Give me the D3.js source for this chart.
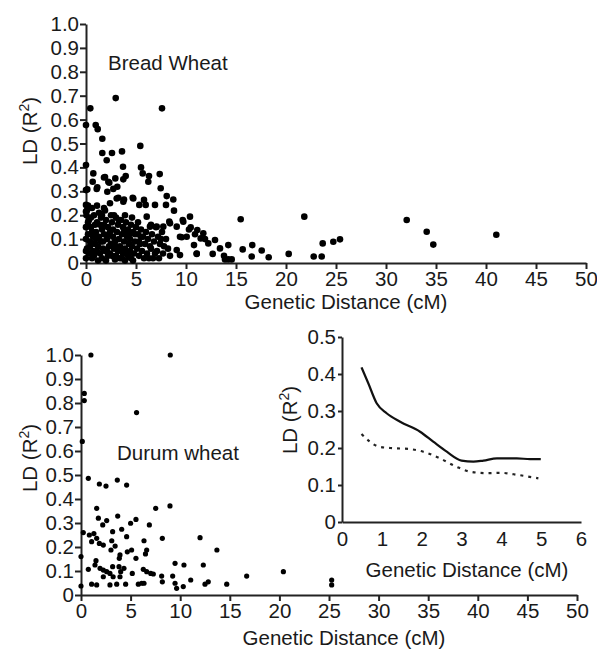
<!DOCTYPE html>
<head>
  <meta charset="utf-8">
  <style>
  body { margin: 0; background: #fff; }
  svg text { font-family: "Liberation Sans", Arial, sans-serif; fill: #1a1a1a; }
  .axis path, .axis line { stroke: #222; stroke-width: 2px; }
  .axis text { font-size: 20.5px; }
  .title { font-size: 20.5px; }
  .dots circle { fill: #000; }
  </style>
  <script src="https://cdn.jsdelivr.net/npm/d3@7"></script>
</head>

<body>
  <svg width="597" height="653"></svg>

  <script>

  // Bread wheat LD (R^2) vs genetic distance (cM)
  var breadWheat = [
    [2.97,0.69],[0.43,0.647],[7.6,0.647],[0.0,0.577],[0.97,0.577],[1.17,0.56],[1.63,0.52],
    [1.63,0.46],[2.6,0.46],[3.6,0.467],[2.07,0.43],[5.43,0.49],[0.0,0.41],[0.73,0.375],
    [3.7,0.403],[5.5,0.40],[1.8,0.358],[2.93,0.354],[3.97,0.364],[6.3,0.364],[7.37,0.372],
    [0.13,0.308],[0.67,0.34],[1.13,0.317],[2.33,0.336],[2.13,0.298],[3.13,0.319],
    [3.23,0.273],[3.8,0.266],[4.67,0.273],[5.67,0.375],[6.23,0.34],[5.33,0.243],[5.8,0.264],
    [5.97,0.243],[6.07,0.194],[7.47,0.313],[6.9,0.243],[8.07,0.28],[8.73,0.266],[8.0,0.243],
    [8.8,0.219],[8.33,0.173],[9.67,0.18],[10.4,0.194],[10.47,0.149],[11.13,0.138],[11.73,0.124],
    [9.07,0.152],[9.57,0.108],[10.07,0.11],[10.8,0.075],[11.47,0.103],[12.23,0.082],[12.9,0.096],
    [11.07,0.038],[12.67,0.038],[13.4,0.061],[14.23,0.075],[13.8,0.03],[14.23,0.015],[14.57,0.015],
    [13.9,0.015],[15.47,0.183],[15.67,0.057],[16.63,0.075],[16.57,0.027],[17.57,0.052],[18.27,0.024],
    [20.27,0.038],[21.83,0.194],[22.77,0.027],[23.57,0.027],[23.67,0.082],[24.73,0.089],[25.4,0.099],
    [32.07,0.18],[34.07,0.131],[34.73,0.077],[41.03,0.118],
    [0.0,0.305],[1.07,0.31],[1.9,0.36],[2.23,0.34],[2.73,0.31],[3.73,0.35],[3.07,0.27],
    [3.73,0.256],[4.73,0.27],[8.4,0.166],[7.07,0.152],[7.73,0.152],[6.4,0.152],[9.73,0.173],
    [9.4,0.11],[9.07,0.054],[9.4,0.033],[11.07,0.04],[10.3,0.14],[10.9,0.12],[11.9,0.1],
    [0.0,0.243],[0.0,0.215],[0.2,0.24],[0.6,0.23],[1.1,0.24],[1.8,0.23],[2.4,0.25],[0.05,0.2],
    [0.0,0.15],[0.0,0.1],[0.0,0.05],[0.0,0.02],
    [0.1,0.22],[0.3,0.18],[0.5,0.15],[0.2,0.12],[0.4,0.09],[0.1,0.06],[0.3,0.04],[0.6,0.02],
    [0.8,0.2],[0.9,0.16],[1.0,0.13],[0.7,0.11],[0.9,0.08],[1.1,0.05],[0.8,0.03],[1.2,0.01],
    [1.3,0.21],[1.5,0.19],[1.4,0.16],[1.6,0.14],[1.3,0.11],[1.5,0.09],[1.7,0.06],[1.4,0.04],
    [1.6,0.02],[1.9,0.22],[2.0,0.18],[2.2,0.15],[1.8,0.12],[2.1,0.1],[2.3,0.07],[1.9,0.05],
    [2.2,0.03],[2.0,0.01],[2.5,0.2],[2.6,0.17],[2.4,0.13],[2.7,0.11],[2.5,0.08],[2.8,0.06],
    [2.6,0.03],[2.9,0.015],[3.0,0.19],[3.2,0.16],[3.1,0.13],[3.3,0.1],[3.0,0.07],[3.2,0.05],
    [3.4,0.02],[3.5,0.18],[3.7,0.15],[3.6,0.12],[3.8,0.09],[3.5,0.06],[3.7,0.04],[3.9,0.01],
    [4.0,0.17],[4.2,0.14],[4.1,0.11],[4.3,0.08],[4.0,0.05],[4.2,0.03],[4.5,0.16],[4.7,0.13],
    [4.4,0.1],[4.6,0.07],[4.8,0.04],[4.5,0.02],[5.0,0.15],[5.2,0.12],[4.9,0.09],[5.1,0.06],
    [5.3,0.03],[5.5,0.14],[5.7,0.11],[5.4,0.08],[5.6,0.05],[5.8,0.02],[6.0,0.13],[6.2,0.1],
    [6.4,0.07],[6.1,0.04],[6.3,0.02],[6.6,0.12],[6.8,0.09],[6.5,0.06],[6.9,0.04],[7.0,0.15],
    [7.2,0.11],[7.4,0.08],[7.1,0.05],[7.3,0.02],[7.6,0.13],[7.8,0.07],[7.7,0.04],[8.0,0.1],
    [8.2,0.06],[8.4,0.03],
    [0.2,0.17],[0.6,0.13],[0.4,0.07],[0.7,0.05],[1.0,0.1],[1.2,0.07],[1.1,0.17],[1.8,0.16],
    [1.7,0.09],[2.3,0.12],[2.1,0.05],[2.7,0.14],[2.9,0.09],[2.4,0.04],[3.3,0.18],[3.4,0.07],
    [3.0,0.03],[3.8,0.13],[3.9,0.06],[3.6,0.02],[4.3,0.12],[4.4,0.05],[4.9,0.12],[4.7,0.01],
    [5.3,0.09],[5.9,0.08],[6.7,0.02],[5.5,0.11],[0.5,0.19],[1.6,0.2],[2.8,0.2],[3.9,0.2],
    [4.6,0.19],[5.2,0.17],[6.5,0.16],[7.5,0.1]
  ];

  // Durum wheat LD (R^2) vs genetic distance (cM)
  var durumWheat = [
    [1.0,1.0],[9.0,1.0],[0.33,0.84],[0.33,0.81],[5.6,0.76],[0.13,0.64],
    [0.74,0.486],[1.85,0.4625],[2.52,0.454],[3.66,0.479],[4.6,0.458],[1.58,0.361],[1.75,0.32],
    [2.59,0.31],[2.19,0.292],[3.7,0.329],[3.19,0.264],[4.1,0.274],[5.0,0.299],[5.54,0.315],
    [6.89,0.292],[7.53,0.361],[8.97,0.371],[8.2,0.236],[12.0,0.239],[13.7,0.1875],
    [0.23,0.26],[0.84,0.25],[1.3,0.256],[1.58,0.236],[1.07,0.222],[1.85,0.215],[2.25,0.208],
    [3.1,0.226],[3.44,0.204],[3.02,0.1875],[4.6,0.243],[4.67,0.18],[5.1,0.1875],[6.35,0.226],
    [6.62,0.1875],[6.5,0.171],[5.54,0.153],[3.93,0.167],[3.86,0.153],[0.0,0.16],
    [0.74,0.107],[1.51,0.143],[1.41,0.125],[1.92,0.111],[2.25,0.104],[2.59,0.097],[2.92,0.09],
    [2.25,0.076],[3.24,0.076],[3.19,0.118],[3.83,0.118],[4.0,0.097],[4.33,0.111],[3.93,0.076],
    [5.17,0.09],[6.28,0.107],[6.62,0.097],[7.03,0.09],[7.29,0.0875],[8.13,0.079],[8.2,0.055],
    [9.24,0.079],[9.48,0.049],[9.64,0.028],[9.48,0.132],[10.38,0.125],[11.06,0.0625],[10.31,0.035],
    [12.33,0.125],[12.5,0.045],[12.83,0.055],[14.69,0.045],[16.7,0.079],[20.4,0.097],
    [0.0,0.0375],[1.07,0.045],[1.58,0.042],[2.92,0.042],[3.6,0.045],[4.5,0.045],[5.78,0.045],
    [6.12,0.049],[6.35,0.049],[25.27,0.0625],[25.27,0.042]
  ];

  // inset: average LD decay curves (bread solid, durum dotted)
  var breadCurve = [
    [0.49,0.418],[0.66,0.375],[0.87,0.321],[1.12,0.294],[1.46,0.271],[1.96,0.244],[2.29,0.217],
    [2.63,0.19],[3.0,0.166],[3.3,0.163],[3.55,0.166],[3.89,0.172],[4.39,0.172],[4.72,0.17],[4.99,0.17]
  ];
  var durumCurve = [
    [0.49,0.238],[0.70,0.217],[0.91,0.204],[1.21,0.2],[1.71,0.197],[2.04,0.19],[2.46,0.172],
    [2.88,0.149],[3.22,0.136],[3.64,0.132],[3.97,0.133],[4.43,0.127],[4.93,0.118]
  ];

  var ldTicks = [0, 0.1, 0.2, 0.3, 0.4, 0.5, 0.6, 0.7, 0.8, 0.9, 1.0];
  var distTicks = [0, 5, 10, 15, 20, 25, 30, 35, 40, 45, 50];
  var insetLdTicks = [0, 0.1, 0.2, 0.3, 0.4, 0.5];
  var insetDistTicks = [0, 1, 2, 3, 4, 5, 6];

  var svg = d3.select("svg");

  var fmt = function(d) { return d === 0 ? "0" : d3.format(".1f")(d); };

  function ldLabel(x, y) {
    var t = svg.append("text")
      .attr("class", "title")
      .attr("transform", "translate(" + x + "," + y + ") rotate(-90)")
      .attr("text-anchor", "middle");
    t.append("tspan").text("LD (R");
    t.append("tspan").attr("dy", -8).style("font-size", "14px").text("2");
    t.append("tspan").attr("dy", 8).text(")");
  }

  function scatter(data, x, y, r) {
    var g = svg.append("g");
    g.append("g")
      .attr("class", "axis")
      .attr("transform", "translate(0," + y.range()[0] + ")")
      .call(d3.axisBottom(x).tickValues(distTicks).tickSize(6).tickPadding(2).tickSizeOuter(0));
    g.append("g")
      .attr("class", "axis")
      .attr("transform", "translate(" + x.range()[0] + ",0)")
      .call(d3.axisLeft(y).tickValues(ldTicks).tickFormat(fmt).tickSize(6).tickPadding(1).tickSizeOuter(0));
    g.selectAll(".axis .domain").attr("fill", "none");
    g.append("g")
      .attr("class", "dots")
      .selectAll("circle")
      .data(data)
      .enter().append("circle")
      .attr("cx", function(d) { return x(d[0]); })
      .attr("cy", function(d) { return y(d[1]); })
      .attr("r", r);
  }

  // top: bread wheat
  var x1 = d3.scaleLinear().domain([0, 50]).range([86, 586]);
  var y1 = d3.scaleLinear().domain([0, 1]).range([263, 24]);
  scatter(breadWheat, x1, y1, 3.3);
  svg.append("text").attr("class", "title").attr("x", 108).attr("y", 70).text("Bread Wheat");
  ldLabel(37, 131);
  svg.append("text").attr("class", "title").attr("x", 346).attr("y", 309)
    .attr("text-anchor", "middle").text("Genetic Distance (cM)");

  // bottom: durum wheat
  var x2 = d3.scaleLinear().domain([0, 50]).range([81, 577]);
  var y2 = d3.scaleLinear().domain([0, 1]).range([595, 355]);
  scatter(durumWheat, x2, y2, 2.6);
  svg.append("text").attr("class", "title").attr("x", 117).attr("y", 460).text("Durum wheat");
  ldLabel(37, 458);
  svg.append("text").attr("class", "title").attr("x", 344).attr("y", 645)
    .attr("text-anchor", "middle").text("Genetic Distance (cM)");

  // inset
  var x3 = d3.scaleLinear().domain([0, 6]).range([342, 581]);
  var y3 = d3.scaleLinear().domain([0, 0.5]).range([522, 337]);
  var inset = svg.append("g");
  inset.append("g")
    .attr("class", "axis")
    .attr("transform", "translate(0," + y3(0) + ")")
    .call(d3.axisBottom(x3).tickValues(insetDistTicks).tickFormat(d3.format("d"))
      .tickSize(0).tickPadding(9).tickSizeOuter(0));
  inset.append("g")
    .attr("class", "axis")
    .attr("transform", "translate(" + x3(0) + ",0)")
    .call(d3.axisLeft(y3).tickValues(insetLdTicks).tickFormat(fmt).tickSize(4).tickPadding(2).tickSizeOuter(0));
  inset.selectAll(".axis .domain").attr("fill", "none");

  var line = d3.line()
    .x(function(d) { return x3(d[0]); })
    .y(function(d) { return y3(d[1]); })
    .curve(d3.curveMonotoneX);

  inset.append("path").datum(breadCurve)
    .attr("d", line).attr("fill", "none").attr("stroke", "#111").attr("stroke-width", 2.2);
  inset.append("path").datum(durumCurve)
    .attr("d", line).attr("fill", "none").attr("stroke", "#222").attr("stroke-width", 2.2)
    .attr("stroke-dasharray", "3,5");

  ldLabel(297, 420);
  svg.append("text").attr("class", "title").attr("x", 467).attr("y", 577)
    .attr("text-anchor", "middle").text("Genetic Distance (cM)");

  </script>
</body>
